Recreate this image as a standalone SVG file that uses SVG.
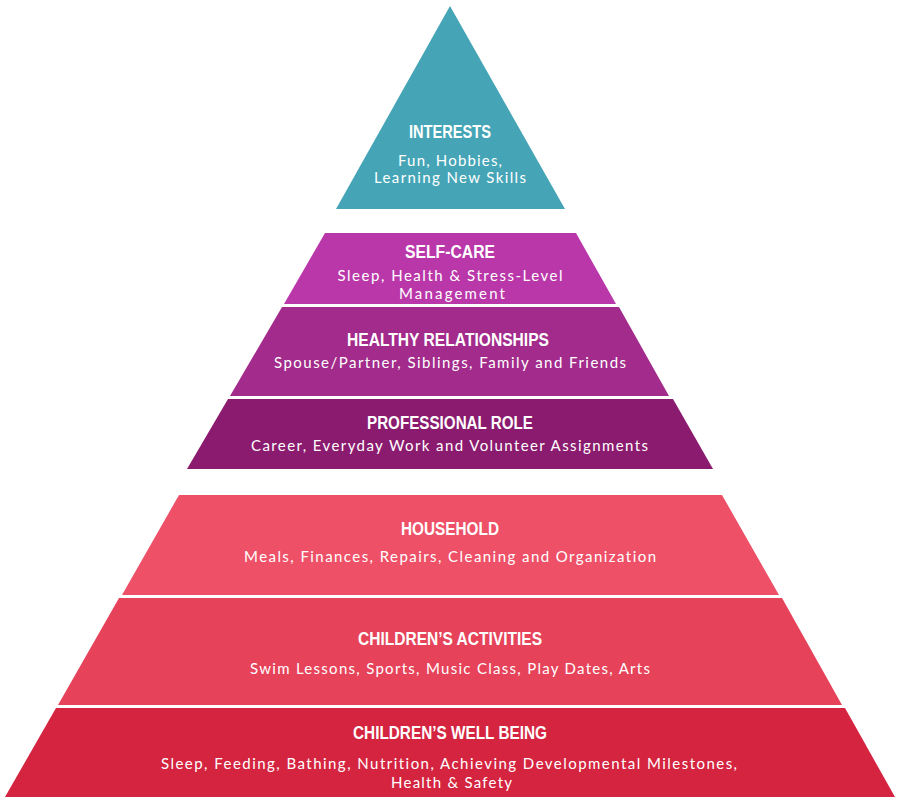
<svg xmlns="http://www.w3.org/2000/svg" width="901" height="800" viewBox="0 0 901 800">
<style>
.t{font-family:"Liberation Sans",Arial,sans-serif;font-weight:bold;font-size:17.5px;fill:#fff;text-anchor:middle}
.b{font-family:Lato,"Open Sans",sans-serif;font-size:15px;fill:#fff;text-anchor:middle;font-variant-ligatures:none;font-feature-settings:"liga" 0,"dlig" 0,"clig" 0}
</style>
<rect width="901" height="800" fill="#fff"/>
<g id="interests">
<polygon points="450,6 565,209 336,209" fill="#45A5B6"/>
<text class="t" x="450" y="138" textLength="82" lengthAdjust="spacingAndGlyphs">INTERESTS</text>
<text class="b" x="450" y="166" textLength="104" lengthAdjust="spacing">Fun, Hobbies,</text>
<text class="b" x="450" y="183" textLength="152" lengthAdjust="spacing">Learning New Skills</text>
</g>
<g id="self-care">
<polygon points="325,233 576,233 616,304 284,304" fill="#BA37AA"/>
<text class="t" x="450" y="258" textLength="90" lengthAdjust="spacingAndGlyphs">SELF-CARE</text>
<text class="b" x="450" y="281" textLength="225" lengthAdjust="spacing">Sleep, Health &amp; Stress-Level</text>
<text class="b" x="452" y="298.5" textLength="106" lengthAdjust="spacing">Management</text>
</g>
<g id="healthy-relationships">
<polygon points="282,307 619,307 669,396 230,396" fill="#A22B8B"/>
<text class="t" x="448" y="346" textLength="202" lengthAdjust="spacingAndGlyphs">HEALTHY RELATIONSHIPS</text>
<text class="b" x="450" y="368" textLength="352" lengthAdjust="spacing">Spouse/Partner, Siblings, Family and Friends</text>
</g>
<g id="professional-role">
<polygon points="228,399 673,399 713,469 187,469" fill="#8A1B6E"/>
<text class="t" x="450" y="429" textLength="166" lengthAdjust="spacingAndGlyphs">PROFESSIONAL ROLE</text>
<text class="b" x="449.5" y="451" textLength="397" lengthAdjust="spacing">Career, Everyday Work and Volunteer Assignments</text>
</g>
<g id="household">
<polygon points="179,495 722,495 779,595 122,595" fill="#EE5068"/>
<text class="t" x="450" y="535" textLength="98" lengthAdjust="spacingAndGlyphs">HOUSEHOLD</text>
<text class="b" x="450" y="562" textLength="412" lengthAdjust="spacing">Meals, Finances, Repairs, Cleaning and Organization</text>
</g>
<g id="childrens-activities">
<polygon points="119,598 782,598 842,705 58,705" fill="#E6425A"/>
<text class="t" x="450" y="645" textLength="184" lengthAdjust="spacingAndGlyphs">CHILDREN’S ACTIVITIES</text>
<text class="b" x="450" y="674" textLength="400" lengthAdjust="spacing">Swim Lessons, Sports, Music Class, Play Dates, Arts</text>
</g>
<g id="childrens-well-being">
<polygon points="56,708 845,708 895,797 5,797" fill="#D42440"/>
<text class="t" x="450" y="739" textLength="194" lengthAdjust="spacingAndGlyphs">CHILDREN’S WELL BEING</text>
<text class="b" x="449" y="769" textLength="576" lengthAdjust="spacing">Sleep, Feeding, Bathing, Nutrition, Achieving Developmental Milestones,</text>
<text class="b" x="451.5" y="788" textLength="121" lengthAdjust="spacing">Health &amp; Safety</text>
</g>
</svg>
